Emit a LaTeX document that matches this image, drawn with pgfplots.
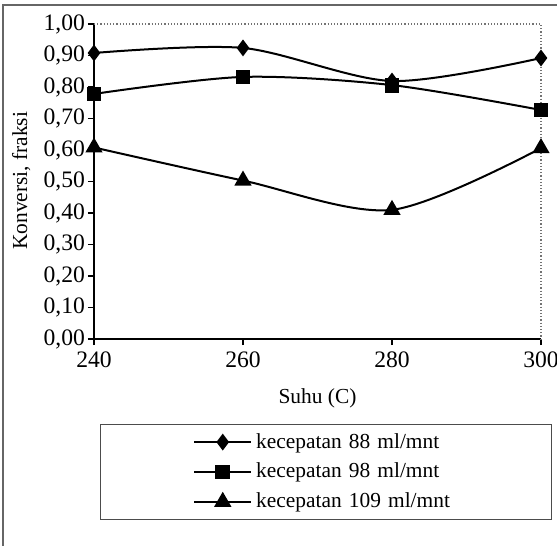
\documentclass[border=0pt]{standalone}
\usepackage{fontspec}
\setmainfont{Liberation Serif}
\usepackage{pgfplots}
\pgfplotsset{compat=1.18}

\begin{document}
\begin{tikzpicture}
% page: 557x546 px, 1px = 0.5pt, axis origin at px (94,339)
\useasboundingbox (-47pt,-103.5pt) rectangle (231.5pt,169.5pt);
\draw[black!60, line width=0.6pt] (-45.5pt,-103.5pt) -- (-45.5pt,167pt) -- (231.5pt,167pt);
\begin{axis}[
    at={(0,0)}, anchor=south west,
    scale only axis,
    width=223.5pt,
    height=157.5pt,
    xmin=240, xmax=300,
    ymin=0, ymax=1,
    xtick={240,260,280,300},
    ytick={0,0.1,...,1.01},
    axis x line*=bottom,
    axis y line*=left,
    axis line style={black, line width=0.8pt},
    tick align=outside,
    major tick length=3pt,
    tick style={black, line width=0.6pt},
    /pgf/number format/assume math mode=true,
    tick label style={font=\fontsize{11.8}{14}\selectfont},
    xticklabel style={/pgf/number format/.cd, fixed, set thousands separator={}},
    yticklabel style={xshift=2pt, /pgf/number format/.cd, fixed, fixed zerofill, precision=2, use comma},
    xlabel={Suhu (C)},
    ylabel={Konversi, fraksi},
    label style={font=\fontsize{10.7}{13}\selectfont},
    x label style={at={(axis description cs:0.5,-0.187)}, anchor=center},
    y label style={at={(axis description cs:-0.163,0.502)}, anchor=center},
    legend style={at={(0.013,-0.27)}, anchor=north west,
        draw=black!70, line width=0.5pt,
        font=\fontsize{10.7}{13}\selectfont,
        inner xsep=46.5pt, inner ysep=2.8pt, row sep=3pt,
        nodes={inner ysep=1.5pt},
        /tikz/every even column/.append style={text width=99pt, inner xsep=1pt}},
    legend cell align=left,
    legend image code/.code={
        \draw[mark repeat=2,mark phase=2,#1]
        plot coordinates {(0cm,0cm) (0.5cm,0cm) (1cm,0cm)};},
    clip=false
]
\addplot[black, line width=1pt, smooth, tension=0.5, mark=diamond*, mark size=3.4pt,
    mark options={solid, fill=black}]
    coordinates {(240,0.908) (260,0.924) (280,0.819) (300,0.892)};
\addplot[black, line width=1pt, smooth, tension=0.5, mark=square*, mark size=3.2pt,
    mark options={solid, fill=black}]
    coordinates {(240,0.778) (260,0.832) (280,0.806) (300,0.727)};
\addplot[black, line width=1pt, smooth, tension=0.5, mark=triangle*, mark size=4pt,
    mark options={solid, fill=black}]
    coordinates {(240,0.608) (260,0.503) (280,0.410) (300,0.606)};
\legend{kecepatan 88 ml/mnt, kecepatan 98 ml/mnt, kecepatan 109 ml/mnt}
\draw[black!55, line width=0.6pt, densely dotted] (rel axis cs:0,1) -- (rel axis cs:1,1) -- (rel axis cs:1,0);
\end{axis}
\end{tikzpicture}
\end{document}
